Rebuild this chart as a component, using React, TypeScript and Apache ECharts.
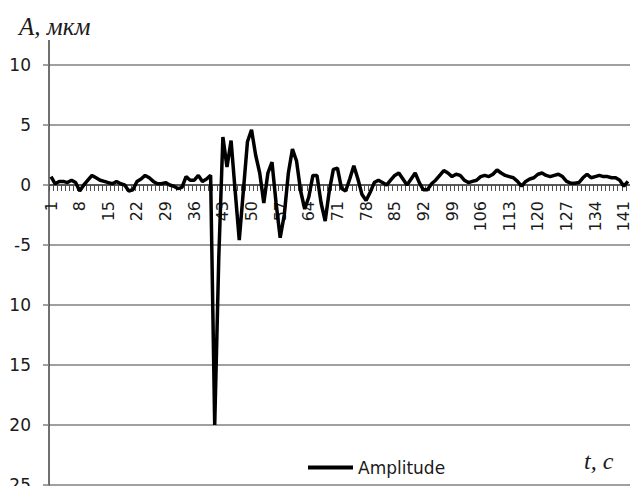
import React, { useEffect, useRef } from "react";
import * as echarts from "echarts";

const amplitude: number[] = [
  0.7, 0.1, 0.3, 0.3, 0.2, 0.4, 0.2, -0.5, 0.0, 0.4,
  0.8, 0.6, 0.4, 0.3, 0.2, 0.1, 0.3, 0.1, 0.0, -0.5,
  -0.4, 0.3, 0.5, 0.8, 0.6, 0.3, 0.1, 0.1, 0.2, 0.0,
  -0.1, -0.3, -0.2, 0.7, 0.4, 0.4, 0.8, 0.3, 0.5, 0.8,
  -20, -6, 4.0, 1.5, 3.7, -0.5, -4.6, -0.5, 3.6, 4.6,
  2.5, 1.0, -1.5, 1.0, 1.9, -1.5, -4.4, -2.5, 1.0, 3.0,
  2.0, -0.5, -2.0, -1.0, 0.8, 0.8, -1.5, -3.0, -0.5, 1.3,
  1.4, -0.3, -0.5, 0.5, 1.6, 0.5, -0.8, -1.3, -0.6, 0.2,
  0.4, 0.2, 0.0, 0.4, 0.8, 1.0, 0.5, 0.0, 0.5, 1.0,
  0.2, -0.4, -0.4, 0.1, 0.4, 0.8, 1.2, 1.0, 0.7, 0.9,
  0.8, 0.4, 0.2, 0.3, 0.4, 0.7, 0.8, 0.7, 0.9, 1.25,
  1.0, 0.8, 0.7, 0.6, 0.3, -0.1, 0.3, 0.5, 0.6, 0.9,
  1.0, 0.8, 0.7, 0.8, 0.9, 0.7, 0.3, 0.15, 0.15, 0.2,
  0.6, 0.9, 0.6, 0.7, 0.8, 0.7, 0.7, 0.6, 0.6, 0.4,
  -0.1, 0.3,
];

const categories: string[] = amplitude.map((_, i) => String(i + 1));

const yTickValues: number[] = [10, 5, 0, -5, -10, -15, -20, -25];
const yTickLabels: string[] = ["10", "5", "0", "-5", "10", "15", "20", "25"];

const seriesName = "Amplitude";
const yTitle = "A, мкм";
const xTitle = "t, c";

export default function App() {
  const ref = useRef<HTMLDivElement>(null);

  useEffect(() => {
    if (!ref.current) return;
    const chart = echarts.init(ref.current, null, { renderer: "svg" });
    const font = "DejaVu Sans";
    chart.setOption({
      animation: false,
      backgroundColor: "#ffffff",
      grid: {
        left: 49,
        right: 0,
        top: 65,
        bottom: 1,
        containLabel: false,
        outerBoundsMode: "none",
      },
      legend: {
        show: true,
        left: 303,
        top: 454,
        icon: "rect",
        itemWidth: 45,
        itemHeight: 4,
        itemGap: 10,
        textStyle: { fontFamily: font, fontSize: 17, color: "#1a1a1a" },
        data: [seriesName],
      },
      title: {
        text: yTitle,
        left: 14,
        top: 9,
        textStyle: {
          fontFamily: "Liberation Serif",
          fontStyle: "italic",
          fontWeight: "normal",
          fontSize: 25,
          color: "#1a1a1a",
        },
      },
      graphic: [
        {
          type: "line",
          shape: { x1: 49, y1: 40, x2: 49, y2: 65 },
          style: { stroke: "#404040", lineWidth: 1.5 },
          silent: true,
        },
        {
          type: "text",
          left: 584,
          top: 449,
          style: {
            text: xTitle,
            font: "italic 24px 'Liberation Serif'",
            fill: "#1a1a1a",
          },
          silent: true,
        },
      ],
      xAxis: {
        type: "category",
        position: "bottom",
        offset: -300,
        data: categories,
        boundaryGap: true,
        axisLine: {
          onZero: false,
          lineStyle: { color: "#404040", width: 1.5 },
        },
        axisTick: { show: true, interval: 0, length: 6, lineStyle: { color: "#505050", width: 1 } },
        axisLabel: {
          interval: 6,
          rotate: 90,
          margin: 16,
          fontFamily: font,
          fontSize: 16,
          color: "#1a1a1a",
        },
        splitLine: { show: false },
      },
      yAxis: {
        type: "value",
        min: -25,
        max: 10,
        interval: 5,
        axisLine: { show: true, lineStyle: { color: "#404040", width: 1.5 } },
        axisTick: { show: true, length: 6, lineStyle: { color: "#808080", width: 1.5 } },
        axisLabel: {
          margin: 18,
          fontFamily: font,
          fontSize: 17,
          color: "#1a1a1a",
          formatter: (v: number) => {
            const idx = yTickValues.indexOf(v);
            return idx >= 0 ? yTickLabels[idx] : String(v);
          },
        },
        splitLine: { show: true, lineStyle: { color: "#808080", width: 1.5 } },
      },
      series: [
        {
          name: seriesName,
          type: "line",
          data: amplitude,
          symbol: "none",
          smooth: false,
          lineStyle: { color: "#000000", width: 3.5 },
          itemStyle: { color: "#000000" },
        },
      ],
    });
    return () => chart.dispose();
  }, []);

  return (
    <div
      ref={ref}
      style={{ position: "fixed", left: 0, top: 0, width: 630, height: 486, background: "#fff" }}
    />
  );
}
